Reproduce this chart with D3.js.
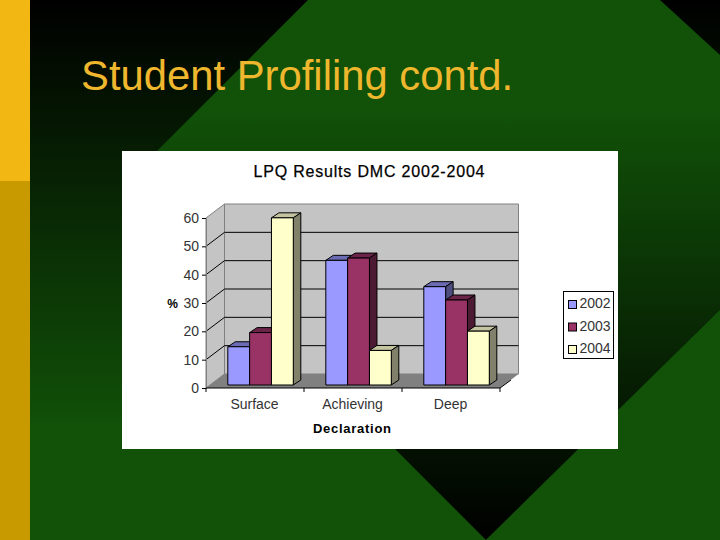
<!DOCTYPE html>
<html><head><meta charset="utf-8">
<style>html,body{margin:0;padding:0;background:#000;overflow:hidden}svg{display:block}text{font-family:"Liberation Sans",Arial,sans-serif}</style>
<script src="https://cdnjs.cloudflare.com/ajax/libs/d3/7.8.5/d3.min.js"></script>
</head><body><svg id="c" width="720" height="540"></svg>
<script>
const pageTitle = "Student Profiling contd.";
const chartTitle = "LPQ Results DMC 2002-2004";
const categories = ["Surface", "Achieving", "Deep"];
const seriesNames = ["2002", "2003", "2004"];
const values2002 = [13.5, 44, 34.7];
const values2003 = [18.5, 44.8, 30];
const values2004 = [59, 12.2, 19];
const yTicks = [0, 10, 20, 30, 40, 50, 60];
const yLabel = "%";
const xLabel = "Declaration";
const seriesValues = [values2002, values2003, values2004];
const fronts = ["#9999ff", "#993366", "#ffffcc"];
const tops = ["#6b6bb3", "#6b2447", "#c4c4a0"];
const sides = ["#4d4d80", "#4d1a33", "#80806b"];

const svg = d3.select("#c");
const defs = svg.append("defs");
function grad(id, stops) {
  const g = defs.append("linearGradient").attr("id", id).attr("gradientUnits", "userSpaceOnUse")
    .attr("x1", 0).attr("y1", 0).attr("x2", 0).attr("y2", 540);
  stops.forEach(s => g.append("stop").attr("offset", s[0]).attr("stop-color", s[1]));
}
grad("base", [[0, "#000000"], [0.8, "#115208"], [1, "#115208"]]);
grad("diamond", [[0, "#115208"], [0.2, "#115208"], [1, "#000000"]]);
svg.append("rect").attr("width", 720).attr("height", 540).attr("fill", "url(#base)");
svg.append("path").attr("d", "M308,0L660,0L720,55L720,310L486,540L127,181Z").attr("fill", "url(#diamond)");
svg.append("path").attr("d", "M486,540L720,310L720,540Z").attr("fill", "#115208");
svg.append("rect").attr("width", 30).attr("height", 181).attr("fill", "#f2b712");
svg.append("rect").attr("y", 181).attr("width", 30).attr("height", 359).attr("fill", "#c99a00");
svg.append("text").attr("x", 81).attr("y", 90).attr("font-size", 41.8).attr("fill", "#efb72e").text(pageTitle);

svg.append("rect").attr("x", 122).attr("y", 151).attr("width", 496).attr("height", 298).attr("fill", "#fff");

// chart geometry
const L = 206, R = 500, Y0 = 388, Y60 = 218, DX = 18.5, DY = -14, BDX = 7.5, BDY = -5, BO = -3;
const y = d3.scaleLinear().domain([0, 60]).range([Y0, Y60]);
const x0 = d3.scaleBand().domain(categories).range([L, R]);
const x1 = d3.scaleBand().domain(seriesNames).range([21.8, 87.3]);
const pts = p => p.map(q => q.join(",")).join(" ");

const g = svg.append("g");
// walls
g.append("polygon").attr("points", pts([[L + DX, Y0 + DY], [R + DX, Y0 + DY], [R + DX, Y60 + DY], [L + DX, Y60 + DY]])).attr("fill", "#c4c4c4").attr("stroke", "#808080");
g.append("polygon").attr("points", pts([[L, Y0], [L + DX, Y0 + DY], [L + DX, Y60 + DY], [L, Y60]])).attr("fill", "#c4c4c4").attr("stroke", "#808080");
g.append("polygon").attr("points", pts([[L, Y0], [R, Y0], [R + DX, Y0 + DY], [L + DX, Y0 + DY]])).attr("fill", "#808080");
// gridlines
yTicks.filter(t => t > 0 && t < 60).forEach(t => {
  g.append("polyline").attr("points", pts([[L, y(t)], [L + DX, y(t) + DY], [R + DX, y(t) + DY]]))
    .attr("fill", "none").attr("stroke", "#000").attr("stroke-width", 1);
});
// bars
categories.forEach((c, ci) => {
  seriesNames.forEach((s, si) => {
    const bx = x0(c) + x1(s), bw = x1.bandwidth();
    const by = y(seriesValues[si][ci]) + BO, bb = y(0) + BO;
    const st = sel => sel.attr("stroke", "#000").attr("stroke-width", 1).attr("stroke-linejoin", "round");
    st(g.append("polygon").attr("points", pts([[bx, by], [bx + BDX, by + BDY], [bx + bw + BDX, by + BDY], [bx + bw, by]])).attr("fill", tops[si]));
    st(g.append("polygon").attr("points", pts([[bx + bw, by], [bx + bw + BDX, by + BDY], [bx + bw + BDX, bb + BDY], [bx + bw, bb]])).attr("fill", sides[si]));
    st(g.append("rect").attr("x", bx).attr("y", by).attr("width", bw).attr("height", bb - by).attr("fill", fronts[si]));
  });
});
// axes
const axisY = d3.axisLeft(y).tickValues(yTicks).tickSize(4).tickPadding(3);
const gy = g.append("g").attr("transform", `translate(${L},0)`).call(axisY);
gy.select(".domain").attr("stroke", "#808080");
gy.selectAll("text").attr("font-size", 14).attr("font-family", '"Liberation Sans"').attr("fill", "#333");
gy.selectAll("line").attr("stroke", "#000");
const axisX = d3.axisBottom(x0).tickSize(0).tickPadding(11);
const gx = g.append("g").attr("transform", `translate(-0.5,${Y0})`).call(axisX);
gx.select(".domain").remove();
gx.selectAll("text").attr("font-size", 14).attr("font-family", '"Liberation Sans"').attr("fill", "#333");
g.append("line").attr("x1", L).attr("x2", R).attr("y1", Y0).attr("y2", Y0).attr("stroke", "#000");
g.append("line").attr("x1", R).attr("x2", R + 11).attr("y1", Y0).attr("y2", Y0 - 8).attr("stroke", "#000");
categories.concat([null]).forEach(c => {
  const tx = c ? x0(c) : R;
  g.append("line").attr("x1", tx).attr("x2", tx).attr("y1", Y0).attr("y2", Y0 + 4).attr("stroke", "#000");
});
// chart text
svg.append("text").attr("x", 369).attr("y", 177).attr("text-anchor", "middle").attr("font-size", 16)
  .attr("stroke", "#000").attr("stroke-width", 0.25).attr("textLength", 231).attr("fill", "#000").text(chartTitle);
svg.append("text").attr("x", 352).attr("y", 433).attr("text-anchor", "middle").attr("font-size", 13).attr("font-weight", "bold")
  .attr("textLength", 78).attr("fill", "#000").text(xLabel);
svg.append("text").attr("x", 172.5).attr("y", 308).attr("text-anchor", "middle").attr("font-size", 12).attr("font-weight", "bold").attr("fill", "#000").text(yLabel);
// legend
svg.append("rect").attr("x", 563.5).attr("y", 291.5).attr("width", 50).attr("height", 67).attr("fill", "#fff").attr("stroke", "#000");
seriesNames.forEach((s, i) => {
  const ly = 300.5 + i * 22.5;
  svg.append("rect").attr("x", 568.5).attr("y", ly).attr("width", 8).attr("height", 8).attr("fill", fronts[i]).attr("stroke", "#000");
  svg.append("text").attr("x", 579.5).attr("y", ly + 7.5).attr("font-size", 14).attr("fill", "#333").text(s);
});
</script></body></html>
